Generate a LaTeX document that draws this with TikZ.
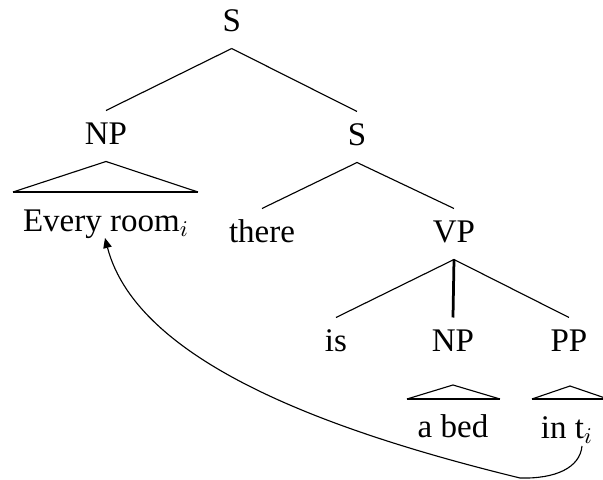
\documentclass[tikz,border=0pt]{standalone}
\usepackage{fontspec}
\setmainfont{Liberation Serif}
\usetikzlibrary{arrows.meta}
\begin{document}
\begin{tikzpicture}[x=0.4pt,y=-0.4pt,
  lbl/.style={anchor=base, font=\fontsize{13.2}{15.5}\selectfont,
    text height=8pt, text depth=0.8pt, inner xsep=0pt, inner ysep=5.6pt},
  branch/.style={line width=0.45pt},
  headbranch/.style={line width=1.1pt},
  roofside/.style={line width=0.45pt},
  roofbase/.style={line width=1.1pt},
  movement/.style={line width=0.45pt, -{Triangle[length=4pt,width=3.4pt]}}]
  \useasboundingbox (0,0) rectangle (603,480);
  \clip (0,0) rectangle (603,480);

  % tree labels
  \node[lbl] (s0)    at (231.7,32) {S};
  \node[lbl] (np1)   at (106,145)  {NP};
  \node[lbl] (s1)    at (357,146)  {S};
  \node[lbl] (every) at (106,232)  {Every room$_i$};
  \node[lbl] (there) at (262,243)  {there};
  \node[lbl] (vp)    at (454,243)  {VP};
  \node[lbl] (is)    at (336,352)  {is};
  \node[lbl] (np3)   at (453,352)  {NP};
  \node[lbl] (pp)    at (569,352)  {PP};
  \node[lbl] (abed)  at (453,438)  {a bed};
  \node[lbl] (int)   at (567,439)  {in t$_i$};

  % branches
  \draw[branch] (s0.south) -- (np1.north);
  \draw[branch] (s0.south) -- (s1.north);
  \draw[branch] (s1.south) -- (there.north);
  \draw[branch] (s1.south) -- (vp.north);
  \draw[branch] (vp.south) -- (is.north);
  \draw[headbranch] (vp.south) -- (np3.north);
  \draw[branch] (vp.south) -- (pp.north);

  % roofs over unanalysed constituents
  \coordinate (r1l) at (13,192);  \coordinate (r1r) at (198,192);
  \coordinate (r2a) at (453,385); \coordinate (r2l) at (407,399); \coordinate (r2r) at (500,399);
  \coordinate (r3a) at (570,386); \coordinate (r3l) at (532,399); \coordinate (r3r) at (608,399);
  \draw[roofside] (r1l) -- (np1.south) -- (r1r);
  \draw[roofbase] (r1l) -- (r1r);
  \draw[roofside] (r2l) -- (r2a) -- (r2r);
  \draw[roofbase] (r2l) -- (r2r);
  \draw[roofside] (r3l) -- (r3a) -- (r3r);
  \draw[roofbase] (r3l) -- (r3r);

  % movement arrow from the trace to its antecedent
  \coordinate (trace) at (582,446);
  \coordinate (dip)   at (520,478);
  \coordinate (tip)   at (105,238);
  \draw[movement] (trace) .. controls (580,468) and (555,479) .. (dip)
    .. controls (340,434) and (138,365) .. (tip);
\end{tikzpicture}
\end{document}
